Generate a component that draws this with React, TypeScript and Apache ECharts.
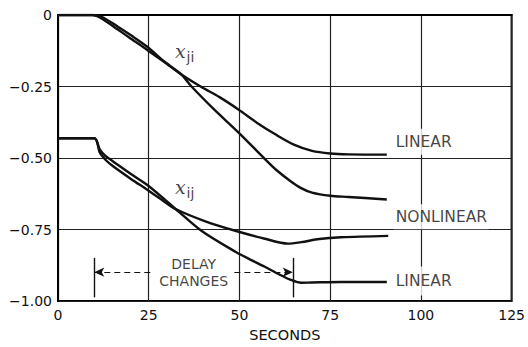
import React, { useEffect, useRef } from "react";
import * as echarts from "echarts";

// x_ji curves (top)
const jiLinearT = [0, 9.5, 12, 16.4, 20, 24.6, 29, 34, 39.3, 44.5, 49.7, 55, 60, 65, 70, 75, 80, 90.6];
const jiLinearV = [0, 0, -0.012, -0.05, -0.082, -0.122, -0.162, -0.208, -0.25, -0.287, -0.33, -0.378, -0.418, -0.453, -0.475, -0.484, -0.487, -0.488];
const jiNonlinT = [0, 9.5, 12, 16.4, 20, 24.6, 29, 34, 36.8, 43, 49.7, 56.5, 60, 64, 67, 70, 75, 80, 90.6];
const jiNonlinV = [0, 0, -0.006, -0.04, -0.07, -0.111, -0.16, -0.208, -0.25, -0.33, -0.41, -0.497, -0.54, -0.58, -0.605, -0.621, -0.632, -0.636, -0.645];

// x_ij curves (bottom)
const ijUpperT = [0, 10, 11.5, 13, 15, 20, 24.6, 28.5, 32.4, 40.6, 49.1, 57, 63.3, 67, 72, 78, 91];
const ijUpperV = [-0.431, -0.431, -0.48, -0.505, -0.527, -0.572, -0.611, -0.645, -0.678, -0.721, -0.755, -0.782, -0.799, -0.794, -0.783, -0.777, -0.772];
const ijLowerT = [0, 10, 11.5, 13, 15, 20, 24.6, 28.5, 32.4, 39.6, 49.1, 53, 57, 61, 64, 67, 70, 78, 90.6];
const ijLowerV = [-0.431, -0.431, -0.47, -0.492, -0.51, -0.555, -0.594, -0.635, -0.678, -0.755, -0.829, -0.855, -0.88, -0.907, -0.925, -0.936, -0.935, -0.933, -0.933];

// annotations
const curveLabels = [
  { text: "ji", t: 34.9, v: -0.134 },
  { text: "ij", t: 34.9, v: -0.611 },
];
const endLabels = [
  { text: "LINEAR", t: 92.5, v: -0.443, pad: [4, 2, 6, 2] },
  { text: "NONLINEAR", t: 92.5, v: -0.705, pad: [7, 2, 2, 2] },
  { text: "LINEAR", t: 92.5, v: -0.93, pad: [7, 2, 6, 2] },
];
const delayStart = 10;
const delayEnd = 64.7;
const delayLevel = -0.899;
const delayTop = -0.849;
const delayBottom = -0.987;
const delayTextGap = [26.5, 48.6];
const delayTextPos = [37.4, -0.901];

const xTicks = { min: 0, max: 125, interval: 25 };
const yTicks = { min: -1, max: 0, interval: 0.25 };

const zip = (t: number[], v: number[]) => t.map((x, i) => [x, v[i]]);

export default function App() {
  const ref = useRef<HTMLDivElement>(null);
  useEffect(() => {
    if (!ref.current) return;
    const chart = echarts.init(ref.current, null, { renderer: "svg" });
    const ink = "#111";
    const font = "DejaVu Sans";
    const noBorder = { textBorderWidth: 0, textBorderColor: "transparent", textShadowBlur: 0 };
    const lineSeries = (name: string, data: number[][]) => ({
      name,
      type: "line",
      data,
      smooth: 0.3,
      showSymbol: false,
      symbol: "none",
      lineStyle: { color: ink, width: 2.4 },
      z: 3,
    });
    chart.setOption({
      animation: false,
      grid: {
        left: 58,
        right: 12,
        top: 15,
        bottom: 34,
        show: true,
        borderColor: "#000",
        borderWidth: 2,
        backgroundColor: "#fff",
      },
      xAxis: {
        type: "value",
        ...xTicks,
        name: "SECONDS",
        nameLocation: "middle",
        nameGap: 20,
        nameTextStyle: { fontFamily: font, fontSize: 14.5, color: ink },
        axisLine: { lineStyle: { color: "#000", width: 2 } },
        axisTick: { show: false },
        axisLabel: { fontFamily: font, fontSize: 14, color: ink, margin: 7 },
        splitLine: { show: true, lineStyle: { color: "#222", width: 1.2 } },
      },
      yAxis: {
        type: "value",
        ...yTicks,
        axisLine: { show: true, lineStyle: { color: "#000", width: 2 } },
        axisTick: { show: false },
        axisLabel: {
          fontFamily: font,
          fontSize: 14,
          color: ink,
          margin: 6,
          formatter: (v: number) => (v === 0 ? "0" : "\u2212" + Math.abs(v).toFixed(2)),
        },
        splitLine: { show: true, lineStyle: { color: "#222", width: 1.2 } },
      },
      series: [
        lineSeries("ji linear", zip(jiLinearT, jiLinearV)),
        lineSeries("ji nonlinear", zip(jiNonlinT, jiNonlinV)),
        lineSeries("ij upper", zip(ijUpperT, ijUpperV)),
        {
          ...lineSeries("ij lower", zip(ijLowerT, ijLowerV)),
          markLine: {
            silent: true,
            symbol: ["none", "none"],
            symbolSize: [7, 10],
            label: { show: false },
            lineStyle: { color: ink, width: 1.4, type: "solid" },
            data: [
              [{ coord: [delayStart, delayTop] }, { coord: [delayStart, delayBottom] }],
              [{ coord: [delayEnd, delayTop] }, { coord: [delayEnd, delayBottom] }],
              [
                { coord: [delayStart, delayLevel], symbol: "arrow", lineStyle: { type: [6, 4], width: 1.2 } },
                { coord: [delayTextGap[0], delayLevel], symbol: "none" },
              ],
              [
                { coord: [delayTextGap[1], delayLevel], symbol: "none", lineStyle: { type: [6, 4], width: 1.2 } },
                { coord: [delayEnd, delayLevel], symbol: "arrow" },
              ],
            ],
          },
        },
        {
          name: "labels",
          type: "scatter",
          symbolSize: 0,
          z: 10,
          silent: true,
          itemStyle: { color: ink },
          data: [
            ...curveLabels.map((c) => ({
              value: [c.t, c.v],
              label: {
                show: true,
                position: [0, 0],
                align: "center",
                verticalAlign: "middle",
                color: ink,
                formatter: "{a|x}{b|" + c.text + "}",
                ...noBorder,
                rich: {
                  a: { fontFamily: "DejaVu Serif", fontStyle: "italic", fontSize: 19, color: ink, padding: [0, 1, 5, 0], ...noBorder },
                  b: { fontFamily: font, fontSize: 14, color: ink, padding: [7, 0, 0, 0], ...noBorder },
                },
              },
            })),
            ...endLabels.map((c) => ({
              value: [c.t, c.v],
              label: {
                show: true,
                position: "right",
                distance: 0,
                formatter: c.text,
                fontFamily: font,
                fontSize: 15.5,
                color: ink,
                backgroundColor: "#fff",
                padding: c.pad,
                ...noBorder,
              },
            })),
            {
              value: delayTextPos,
              label: {
                show: true,
                position: [0, 0],
                align: "center",
                verticalAlign: "middle",
                formatter: "DELAY\nCHANGES",
                fontFamily: font,
                fontSize: 14,
                lineHeight: 17,
                color: ink,
                ...noBorder,
              },
            },
          ],
        },
      ],
    });
    return () => chart.dispose();
  }, []);
  return (
    <div
      ref={ref}
      style={{ position: "fixed", left: 0, top: 0, width: 528, height: 347, background: "#fff" }}
    />
  );
}
